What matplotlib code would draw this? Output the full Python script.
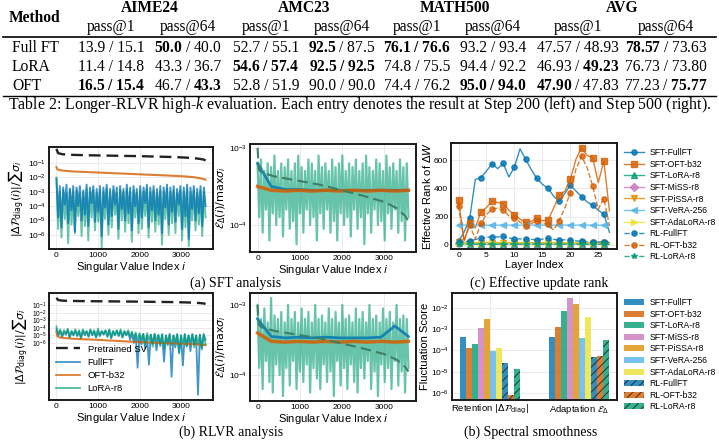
import numpy as np
import matplotlib
matplotlib.use("Agg")
import matplotlib.pyplot as plt
from matplotlib.lines import Line2D

plt.rcParams.update({
    'font.family': ['Liberation Sans', 'DejaVu Sans'],
    'mathtext.fontset': 'custom',
    'mathtext.rm': 'Liberation Serif',
    'mathtext.it': 'Liberation Serif:italic',
    'mathtext.bf': 'Liberation Serif:bold',
    'hatch.linewidth': 0.7,
})

# ---------------- table data ----------------
bench_names = ["AIME24", "AMC23", "MATH500", "AVG"]
sub_names = ["pass@1", "pass@64"] * 4
methods = ["Full FT", "LoRA", "OFT"]
# each cell: (step200, step500, bold200, bold500)
table_cells = [
    [("13.9", "15.1", 0, 0), ("50.0", "40.0", 1, 0), ("52.7", "55.1", 0, 0), ("92.5", "87.5", 1, 0),
     ("76.1", "76.6", 1, 1), ("93.2", "93.4", 0, 0), ("47.57", "48.93", 0, 0), ("78.57", "73.63", 1, 0)],
    [("11.4", "14.8", 0, 0), ("43.3", "36.7", 0, 0), ("54.6", "57.4", 1, 1), ("92.5", "92.5", 1, 1),
     ("74.8", "75.5", 0, 0), ("94.4", "92.2", 0, 0), ("46.93", "49.23", 0, 1), ("76.73", "73.80", 0, 0)],
    [("16.5", "15.4", 1, 1), ("46.7", "43.3", 0, 1), ("52.8", "51.9", 0, 0), ("90.0", "90.0", 0, 0),
     ("74.4", "76.2", 0, 0), ("95.0", "94.0", 1, 1), ("47.90", "47.83", 1, 0), ("77.23", "75.77", 0, 1)],
]
caption_table = ("Table 2: Longer-RLVR high-$k$ evaluation. Each entry denotes the result at "
                 "Step 200 (left) and Step 500 (right).")

# ---------------- spectral data (log10 values) ----------------
sv_idx = [0, 40, 150, 400, 800, 1200, 1600, 2000, 2400, 2800, 3100, 3300, 3450, 3550, 3583]
pretrained_sv_log = [0.0, -0.3, -0.38, -0.42, -0.45, -0.47, -0.49, -0.51, -0.54, -0.57, -0.61, -0.65, -0.7, -0.76, -0.82]

sft_oft_diag_idx = [0, 30, 150, 400, 800, 1200, 1600, 2000, 2400, 2800, 3100, 3300, 3450, 3583]
sft_oft_diag_log = [-1.28, -1.45, -1.52, -1.58, -1.63, -1.68, -1.73, -1.78, -1.83, -1.88, -1.93, -1.98, -2.05, -2.15]

sft_full_diag_log = [-2.1, -4.8, -2.6, -5.5, -2.7, -3.9, -2.5, -5.2, -2.8, -4.3, -2.6, -5.8, -2.7, -4.0, -2.6,
                     -5.0, -2.9, -4.6, -2.5, -5.4, -2.7, -3.8, -2.6, -5.1, -2.8, -4.4, -2.6, -6.1, -2.7, -4.1,
                     -2.5, -5.3, -2.8, -4.7, -2.6, -3.9, -2.7, -5.6, -2.6, -4.2, -2.8, -5.0, -2.5, -4.5, -2.7,
                     -5.7, -2.6, -4.0, -2.8, -5.2, -2.6, -4.8, -2.7, -3.8, -2.5, -5.5, -2.7, -4.3, -2.6, -5.0,
                     -2.8, -4.6, -2.6, -5.9, -2.7, -4.1, -2.5, -5.3, -2.7, -4.4, -2.6, -5.1, -2.8, -3.9, -2.6,
                     -5.6, -2.7, -4.7, -2.5, -6.3, -2.7, -4.2, -2.6, -5.0, -2.8, -4.5, -2.6, -5.4, -2.7, -4.0]
sft_lora_diag_log = [-2.0, -5.6, -3.0, -6.2, -2.9, -4.9, -3.1, -6.6, -2.8, -5.3, -3.0, -5.9, -2.9, -4.7, -3.1,
                     -6.1, -3.0, -5.4, -2.8, -6.4, -3.0, -4.8, -2.9, -5.7, -3.1, -5.1, -2.9, -6.9, -3.0, -4.9,
                     -2.8, -6.0, -3.0, -5.5, -2.9, -4.6, -3.1, -6.3, -2.9, -5.0, -3.0, -5.8, -2.8, -5.2, -3.0,
                     -6.5, -2.9, -4.8, -3.1, -5.9, -2.9, -5.6, -3.0, -4.7, -2.8, -6.2, -3.0, -5.1, -2.9, -5.8,
                     -3.1, -5.3, -2.9, -6.7, -3.0, -4.9, -2.8, -6.0, -3.0, -5.2, -2.9, -5.9, -3.1, -4.7, -2.9,
                     -6.4, -3.0, -5.5, -2.8, -6.8, -3.0, -5.0, -2.9, -5.7, -3.1, -5.3, -2.9, -6.1, -3.0, -4.8]

edelta_pre_idx = [0, 30, 100, 400, 1000, 1500, 2000, 2500, 3000, 3300, 3500, 3583]
edelta_pre_log = [-3.0, -3.28, -3.32, -3.37, -3.43, -3.48, -3.55, -3.62, -3.7, -3.78, -3.88, -3.95]

sft_lora_edelta_log = [-3.2, -3.9, -3.15, -4.1, -3.3, -3.8, -3.2, -4.2, -3.25, -3.85, -3.1, -4.0, -3.3, -3.9,
                       -3.2, -4.15, -3.25, -3.8, -3.15, -4.05, -3.3, -3.95, -3.2, -4.25, -3.1, -3.85, -3.25,
                       -4.1, -3.3, -3.8, -3.15, -4.0, -3.2, -3.9, -3.3, -4.2, -3.1, -3.85, -3.25, -4.05, -3.2,
                       -3.8, -3.3, -4.1, -3.15, -3.95, -3.25, -4.2, -3.2, -3.85, -3.1, -4.0, -3.3, -3.9, -3.2,
                       -4.15, -3.25, -3.8, -3.15, -4.05, -3.3, -3.9, -3.2, -4.25, -3.1, -3.85, -3.25, -4.1,
                       -3.3, -3.8, -3.15, -4.0, -3.2, -3.95, -3.3, -4.2, -3.1, -3.85, -3.25, -4.05, -3.2, -3.8,
                       -3.3, -4.1, -3.15, -3.95, -3.25, -4.2, -3.2, -3.9]
sft_oft_edelta_log = [-3.5, -3.55, -3.56, -3.55, -3.56, -3.55, -3.56, -3.55, -3.56, -3.55, -3.56, -3.55]
sft_full_edelta_log = [-3.2, -3.5, -3.54, -3.54, -3.55, -3.55, -3.55, -3.55, -3.55, -3.55, -3.55, -3.55]

rl_oft_diag_idx = [0, 20, 100, 400, 1000, 1500, 2000, 2500, 3000, 3400, 3583]
rl_oft_diag_log = [-4.5, -5.1, -5.3, -5.45, -5.6, -5.75, -5.9, -6.0, -6.1, -6.2, -6.3]
rl_lora_diag_log = [-3.8, -4.9, -4.2, -5.1, -4.3, -4.8, -4.1, -5.2, -4.4, -4.9, -4.2, -5.0, -4.3, -5.3, -4.2,
                    -4.8, -4.4, -5.1, -4.2, -4.9, -4.3, -5.2, -4.1, -5.0, -4.4, -4.8, -4.3, -5.1, -4.2, -5.3,
                    -4.4, -4.9, -4.3, -5.0, -4.2, -5.2, -4.4, -4.9, -4.3, -5.1, -4.5, -5.4, -4.6, -5.8, -4.7,
                    -5.5, -4.8, -6.2, -4.7, -5.6, -4.9, -6.5, -4.8, -5.7, -4.9, -6.1, -4.8, -6.8, -5.0, -5.9,
                    -4.9, -6.3, -5.0, -5.8, -4.8, -7.2, -5.0, -6.0, -4.9, -6.4, -5.0, -5.9, -4.8, -6.6, -5.0,
                    -6.1, -4.9, -6.9, -5.0, -6.2]
rl_full_diag_log = [-4.2, -5.0, -4.4, -5.2, -4.5, -4.9, -4.3, -5.3, -4.5, -5.0, -4.4, -5.1, -4.5, -5.4, -4.4,
                    -5.0, -4.5, -5.2, -4.3, -5.0, -4.5, -5.3, -4.4, -5.1, -4.5, -4.9, -4.4, -5.2, -4.3, -5.4,
                    -4.5, -5.0, -4.4, -5.1, -4.4, -5.3, -4.5, -5.0, -4.5, -5.6, -4.7, -6.0, -4.8, -9.3, -4.9,
                    -6.2, -4.8, -6.8, -5.0, -8.9, -4.9, -6.1, -4.8, -7.0, -5.0, -6.4, -4.9, -8.5, -5.0, -6.3,
                    -4.8, -10.5, -5.0, -6.6, -4.9, -7.4, -5.0, -9.0, -4.8, -6.5, -5.0, -7.1, -4.9, -6.2, -5.0,
                    -12.9, -4.9, -6.7, -4.8, -5.6]

rl_lora_edelta_log = [-3.0, -3.9, -3.2, -4.2, -3.05, -3.8, -3.25, -4.1, -2.9, -4.25, -3.15, -3.85, -3.2, -4.0,
                      -3.1, -4.3, -3.25, -3.9, -3.0, -4.15, -3.2, -3.8, -3.1, -4.2, -3.25, -3.95, -3.05, -4.1,
                      -3.2, -3.85, -3.1, -4.25, -3.25, -3.9, -3.0, -4.05, -3.2, -4.2, -3.15, -3.85, -3.25,
                      -4.1, -3.05, -3.95, -3.2, -4.3, -3.1, -3.8, -3.25, -4.15, -3.0, -3.9, -3.2, -4.2, -3.15,
                      -3.85, -3.25, -4.1, -3.05, -4.25, -3.2, -3.9, -3.1, -4.05, -3.25, -3.8, -3.0, -4.2,
                      -3.2, -3.95, -3.15, -4.3, -3.25, -3.85, -3.05, -4.1, -3.2, -3.9, -3.1, -4.2, -3.25,
                      -3.8, -3.0, -4.15, -3.2, -3.95, -3.15, -4.25, -3.2, -3.9]
rl_oft_edelta_log = [-3.4, -3.52, -3.53, -3.52, -3.53, -3.52, -3.53, -3.52, -3.53, -3.52, -3.53, -3.52]
rl_full_edelta_log = [-3.2, -3.45, -3.47, -3.46, -3.47, -3.46, -3.47, -3.47, -3.47, -3.46, -3.3, -3.45]

# ---------------- effective rank data ----------------
layers = list(range(28))
rank_sft_fullft = [24, 90, 187, 464, 476, 523, 575, 540, 577, 481, 551, 681, 606, 535, 471, 429, 401, 346,
                   307, 363, 422, 382, 342, 304, 281, 245, 217, 88]
rank_sft_oft = [316, 28, 156, 120, 233, 264, 311, 300, 292, 245, 212, 182, 158, 165, 189, 170, 175, 259,
                351, 380, 464, 606, 688, 634, 618, 441, 594, 240]
rank_sft_lora = [10, 7, 6, 7, 6, 6, 7, 6, 6, 7, 6, 6, 6, 7, 6, 6, 7, 6, 6, 6, 7, 6, 6, 6, 6, 6, 6, 5]
rank_sft_miss = [14, 10, 9, 10, 9, 9, 10, 9, 9, 10, 9, 9, 9, 10, 9, 9, 10, 9, 9, 9, 10, 9, 9, 9, 9, 9, 9, 8]
rank_sft_pissa = [20, 15, 14, 15, 14, 14, 15, 14, 14, 15, 14, 14, 14, 15, 14, 14, 15, 14, 14, 14, 15, 14,
                  14, 14, 14, 14, 14, 13]
rank_sft_vera = [140, 139, 140, 139, 140, 139, 140, 139, 140, 139, 140, 139, 140, 139, 140, 139, 140, 139,
                 140, 139, 140, 139, 140, 139, 140, 139, 140, 139]
rank_sft_adalora = [12, 11, 10, 11, 10, 10, 11, 10, 10, 11, 10, 10, 10, 11, 10, 10, 11, 10, 10, 10, 11, 10,
                    10, 10, 10, 10, 10, 9]
rank_rl_fullft = [18, 22, 24, 38, 45, 52, 57, 55, 59, 48, 40, 42, 40, 38, 36, 40, 45, 38, 33, 35, 33, 28,
                  24, 22, 20, 20, 20, 18]
rank_rl_oft = [276, 25, 140, 40, 151, 215, 252, 260, 245, 205, 187, 160, 134, 150, 170, 150, 146, 104, 170,
               260, 370, 535, 629, 547, 417, 252, 328, 134]
rank_rl_lora = [5, 4, 4, 4, 4, 4, 4, 4, 4, 4, 4, 4, 4, 4, 4, 4, 4, 4, 4, 4, 4, 4, 4, 4, 4, 4, 4, 4]

# ---------------- fluctuation scores (log10) ----------------
bar_methods = ["SFT-FullFT", "SFT-OFT-b32", "SFT-LoRA-r8", "SFT-MiSS-r8", "SFT-PiSSA-r8", "SFT-VeRA-256",
               "SFT-AdaLoRA-r8", "RL-FullFT", "RL-OFT-b32", "RL-LoRA-r8"]
retention_log = [-3.39, -3.89, -3.69, -2.95, -2.53, -4.05, -3.89, -4.60, -6.08, -4.88]
adaptation_log = [-3.39, -2.88, -2.13, -1.54, -1.81, -3.42, -2.44, -4.29, -4.25, -3.50]
group_labels = [r"Retention $|\Delta \mathcal{P}_{\mathrm{diag}}|$", r"Adaptation $\mathcal{E}_{\Delta}$"]

# ---------------- styling ----------------
C_FULL, C_OFT, C_LORA = '#0173b2', '#d55e00', '#029e73'
C_MISS, C_PISSA, C_VERA, C_ADA = '#cc78bc', '#de8f05', '#56b4e9', '#ece133'
bar_colors = [C_FULL, C_OFT, C_LORA, C_MISS, C_PISSA, C_VERA, C_ADA, C_FULL, C_OFT, C_LORA]
C_PRE_E = '#3d7f63'

W, H = 719, 447
fig = plt.figure(figsize=(W / 100, H / 100), dpi=100)


def rect(x0, y0, x1, y1):
    return [x0 / W, 1 - y1 / H, (x1 - x0) / W, (y1 - y0) / H]


def style(ax):
    for s in ax.spines.values():
        s.set_color('#1a1a1a')
        s.set_linewidth(1.4)
    ax.grid(True, color='#e8e8e8', lw=0.6)
    ax.set_axisbelow(True)
    ax.tick_params(length=0, labelsize=6, pad=2)


LBL = dict(fontsize=8, math_fontfamily='dejavusans')

# ---------------- table ----------------
TF = dict(family='Liberation Serif', math_fontfamily='custom')
TS = 11.2
col_x = [111, 188, 266, 342, 417, 493, 578, 666]
grp_x = [150, 304, 455, 622]
fig.text(9 / W, 1 - 18 / H, "Method", fontsize=TS, fontweight='bold', va='center', ha='left', **TF)
for gx, name in zip(grp_x, bench_names):
    fig.text(gx / W, 1 - 8 / H, name, fontsize=TS, fontweight='bold', va='center', ha='center', **TF)
for cx, name in zip(col_x, sub_names):
    fig.text(cx / W, 1 - 27 / H, name, fontsize=TS, va='center', ha='center', **TF)
fig.add_artist(Line2D([3 / W, 716 / W], [1 - 37 / H, 1 - 37 / H], color='k', lw=1.2))
row_y = [48, 67, 86]
for ry, m, cells in zip(row_y, methods, table_cells):
    fig.text(12 / W, 1 - ry / H, m, fontsize=TS, va='center', ha='left', **TF)
    for cx, (a, b, ba, bb) in zip(col_x, cells):
        if ba and bb:
            s = r"$\mathbf{%s\ /\ %s}$" % (a, b)
        else:
            sa = r"$\mathbf{%s}$" % a if ba else a
            sb = r"$\mathbf{%s}$" % b if bb else b
            s = sa + " / " + sb
        fig.text(cx / W, 1 - ry / H, s, fontsize=TS, va='center', ha='center', **TF)
fig.add_artist(Line2D([3 / W, 716 / W], [1 - 95.5 / H, 1 - 95.5 / H], color='k', lw=1.0))
fig.text(360 / W, 1 - 105 / H, caption_table, fontsize=11.4, va='center', ha='center', **TF)

# ---------------- panel 1: SFT diag ----------------
ax1 = fig.add_axes(rect(49, 147, 213, 249))
style(ax1)
n = len(sft_full_diag_log)
xi = np.linspace(0, 3583, n)
ax1.plot(xi, 10 ** np.array(sft_lora_diag_log), color=C_LORA, lw=1.4, alpha=0.6)
ax1.plot(xi, 10 ** np.array(sft_full_diag_log), color=C_FULL, lw=1.4, alpha=0.75)
ax1.plot(sft_oft_diag_idx, 10 ** np.array(sft_oft_diag_log), color=C_OFT, lw=1.5, alpha=0.8)
ax1.plot(sv_idx, 10 ** np.array(pretrained_sv_log), color='#222222', lw=1.7, ls=(0, (5, 2.5)))
ax1.set_yscale('log')
ax1.set_ylim(10 ** -7.0, 10 ** 0.13)
ax1.set_yticks([1e-1, 1e-2, 1e-3, 1e-4, 1e-5, 1e-6])
ax1.minorticks_off()
ax1.set_xticks([0, 1000, 2000, 3000])
ax1.set_xlabel(r"Singular Value Index $i$", labelpad=1, **LBL)
ax1.set_ylabel(r"$|\Delta \mathcal{P}_{\mathrm{diag}}(i)|/\sum\sigma_i$", labelpad=1, **LBL)

# ---------------- panel 2: SFT E_delta ----------------
ax2 = fig.add_axes(rect(250, 144, 416, 252))
style(ax2)
n2 = len(sft_lora_edelta_log)
ax2.plot(np.linspace(0, 3583, n2), 10 ** np.array(sft_lora_edelta_log), color=C_LORA, lw=1.6, alpha=0.6)
ax2.plot(np.linspace(0, 3583, len(sft_full_edelta_log)), 10 ** np.array(sft_full_edelta_log), color=C_FULL, lw=2.0, alpha=0.8)
ax2.plot(np.linspace(0, 3583, len(sft_oft_edelta_log)), 10 ** np.array(sft_oft_edelta_log), color=C_OFT, lw=2.5, alpha=0.85)
ax2.plot(edelta_pre_idx, 10 ** np.array(edelta_pre_log), color=C_PRE_E, lw=1.5, ls=(0, (5, 2.5)))
ax2.set_yscale('log')
ax2.set_ylim(10 ** -4.35, 10 ** -2.95)
ax2.set_yticks([1e-3, 1e-4])
ax2.minorticks_off()
ax2.set_xticks([0, 1000, 2000, 3000])
ax2.set_xlabel(r"Singular Value Index $i$", labelpad=1, **LBL)
ax2.set_ylabel(r"$\mathcal{E}_{\Delta}(i)/\max\sigma_i$", labelpad=1, **LBL)

# ---------------- panel 3: effective rank ----------------
ax3 = fig.add_axes(rect(451, 143, 617, 249))
style(ax3)
ms = 3.8
specs = [
    (rank_sft_fullft, C_FULL, 'o', '-', 'SFT-FullFT'),
    (rank_sft_oft, C_OFT, 's', '-', 'SFT-OFT-b32'),
    (rank_sft_lora, C_LORA, '^', '-', 'SFT-LoRA-r8'),
    (rank_sft_miss, C_MISS, 'D', '-', 'SFT-MiSS-r8'),
    (rank_sft_pissa, C_PISSA, 'v', '-', 'SFT-PiSSA-r8'),
    (rank_sft_vera, C_VERA, '<', '-', 'SFT-VeRA-256'),
    (rank_sft_adalora, C_ADA, '>', '-', 'SFT-AdaLoRA-r8'),
    (rank_rl_fullft, C_FULL, 'o', '--', 'RL-FullFT'),
    (rank_rl_oft, C_OFT, 'o', '--', 'RL-OFT-b32'),
    (rank_rl_lora, C_LORA, '*', '--', 'RL-LoRA-r8'),
]
for vals, c, mk, ls, lab in specs:
    ax3.plot(layers, vals, color=c, marker=mk, ls=ls, lw=1.0, ms=ms, markevery=2, alpha=0.8, label=lab)
ax3.set_xticks([0, 5, 10, 15, 20, 25])
ax3.set_yticks([0, 200, 400, 600])
ax3.set_xlabel("Layer Index", labelpad=1, **LBL)
ax3.set_ylabel(r"Effective Rank of $\Delta W$", labelpad=1, **LBL)
ax3.legend(loc='upper left', bbox_to_anchor=(1.01, 1.0), frameon=False, fontsize=6.2,
           handlelength=2.4, labelspacing=0.3, borderaxespad=0.2, handletextpad=0.6)

# ---------------- panel 4: RLVR diag ----------------
ax4 = fig.add_axes(rect(49, 293, 213, 400))
style(ax4)
ax4.tick_params(axis='y', labelsize=4.8, pad=1.5)
n4 = len(rl_full_diag_log)
ax4.plot(np.linspace(0, 3583, n4), 10 ** np.array(rl_full_diag_log), color=C_FULL, lw=1.3, alpha=0.75, zorder=2)
ax4.plot(rl_oft_diag_idx, 10 ** np.array(rl_oft_diag_log), color=C_OFT, lw=1.5, alpha=0.8, zorder=3)
ax4.plot(np.linspace(0, 3583, len(rl_lora_diag_log)), 10 ** np.array(rl_lora_diag_log), color=C_LORA, lw=1.3, alpha=0.7, zorder=4)
ax4.plot(sv_idx, 10 ** np.array(pretrained_sv_log), color='#222222', lw=1.7, ls=(0, (5, 2.5)), zorder=5)
ax4.set_yscale('log')
ax4.set_ylim(10 ** -13.6, 10 ** 0.64)
ax4.set_yticks([1e-1, 1e-2, 1e-3, 1e-4, 1e-5, 1e-6])
ax4.minorticks_off()
ax4.set_xticks([0, 1000, 2000, 3000])
ax4.set_xlabel(r"Singular Value Index $i$", labelpad=1, **LBL)
ax4.set_ylabel(r"$|\Delta \mathcal{P}_{\mathrm{diag}}(i)|/\sum\sigma_i$", labelpad=1, **LBL)
h4 = [Line2D([], [], color='#222222', lw=1.7, ls=(0, (5, 2.5))),
      Line2D([], [], color=C_FULL, lw=1.3, alpha=0.75),
      Line2D([], [], color=C_OFT, lw=1.3, alpha=0.8),
      Line2D([], [], color=C_LORA, lw=1.3, alpha=0.7)]
ax4.legend(h4, ["Pretrained SV", "FullFT", "OFT-b32", "LoRA-r8"], loc='lower left', frameon=False,
           fontsize=6.8, handlelength=2.6, labelspacing=0.45, borderaxespad=0.3)

# ---------------- panel 5: RLVR E_delta ----------------
ax5 = fig.add_axes(rect(250, 293, 416, 401))
style(ax5)
ax5.plot(np.linspace(0, 3583, len(rl_lora_edelta_log)), 10 ** np.array(rl_lora_edelta_log), color=C_LORA, lw=1.6, alpha=0.6)
ax5.plot(np.linspace(0, 3583, len(rl_full_edelta_log)), 10 ** np.array(rl_full_edelta_log), color=C_FULL, lw=2.0, alpha=0.8)
ax5.plot(np.linspace(0, 3583, len(rl_oft_edelta_log)), 10 ** np.array(rl_oft_edelta_log), color=C_OFT, lw=2.5, alpha=0.85)
ax5.plot(edelta_pre_idx, 10 ** np.array(edelta_pre_log), color=C_PRE_E, lw=1.5, ls=(0, (5, 2.5)))
ax5.set_yscale('log')
ax5.set_ylim(10 ** -4.37, 10 ** -2.83)
ax5.set_yticks([1e-3, 1e-4])
ax5.minorticks_off()
ax5.set_xticks([0, 1000, 2000, 3000])
ax5.set_xlabel(r"Singular Value Index $i$", labelpad=1, **LBL)
ax5.set_ylabel(r"$\mathcal{E}_{\Delta}(i)/\max\sigma_i$", labelpad=1, **LBL)

# ---------------- panel 6: fluctuation bars ----------------
ax6 = fig.add_axes(rect(452, 293, 617, 400))
style(ax6)
bw = 0.0667
for k, (lab, c) in enumerate(zip(bar_methods, bar_colors)):
    vals = [10 ** retention_log[k], 10 ** adaptation_log[k]]
    xs = np.array([0, 1]) + (k - 4.5) * bw
    hatch = '////' if lab.startswith('RL') else None
    ax6.bar(xs, vals, width=bw, color=c, alpha=0.8, hatch=hatch,
            edgecolor='#1a1a1a' if hatch else c, linewidth=0, label=lab)
ax6.set_yscale('log')
ax6.set_ylim(10 ** -6.33, 10 ** -1.3)
ax6.set_yticks([1e-2, 1e-3, 1e-4, 1e-5, 1e-6])
ax6.minorticks_off()
ax6.set_xlim(-0.42, 1.42)
ax6.set_xticks([0, 1])
ax6.set_xticklabels(group_labels, fontsize=6.8, math_fontfamily='dejavusans')
ax6.set_ylabel("Fluctuation Score", labelpad=1, **LBL)
ax6.legend(loc='upper left', bbox_to_anchor=(1.01, 1.0), frameon=False, fontsize=6.2,
           handlelength=2.4, labelspacing=0.3, borderaxespad=0.2, handletextpad=0.6)

# ---------------- sub captions ----------------
CF = dict(family='Liberation Serif', fontsize=10, ha='center', va='center')
fig.text(236 / W, 1 - 283 / H, "(a) SFT analysis", **CF)
fig.text(539 / W, 1 - 283 / H, "(c) Effective update rank", **CF)
fig.text(231 / W, 1 - 432 / H, "(b) RLVR analysis", **CF)
fig.text(531 / W, 1 - 432 / H, "(b) Spectral smoothness", **CF)

fig.savefig("out.png", dpi=100)
